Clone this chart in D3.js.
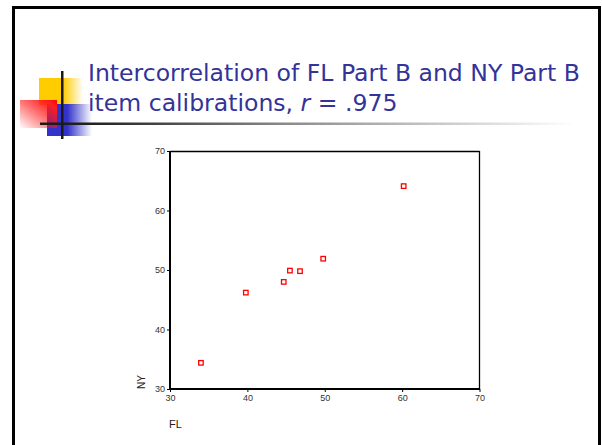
<!DOCTYPE html>
<html><head><meta charset="utf-8">
<script src="https://cdn.jsdelivr.net/npm/d3@7"></script>
<style>body{margin:0;background:#fff}svg{display:block}</style>
</head><body>
<script>
// Data
const flValues = [34.0, 39.8, 44.7, 45.5, 46.8, 49.8, 60.2];
const nyValues = [34.4, 46.2, 48.0, 49.9, 49.8, 51.9, 64.1];
const xTicks = [30, 40, 50, 60, 70];
const yTicks = [30, 40, 50, 60, 70];
const titleLine1 = "Intercorrelation of FL Part B and NY Part B";
const titleLine2a = "item calibrations, ";
const titleLine2r = "r";
const titleLine2b = " = .975";
const xLabel = "FL", yLabel = "NY";

const W = 602, H = 445;
const svg = d3.select("body").append("svg").attr("width", W).attr("height", H);
const defs = svg.append("defs");

function grad(id, x1, y1, x2, y2, stops) {
  const g = defs.append("linearGradient").attr("id", id)
    .attr("x1", x1).attr("y1", y1).attr("x2", x2).attr("y2", y2);
  stops.forEach(s => g.append("stop").attr("offset", s[0]).attr("stop-color", s[1]).attr("stop-opacity", s[2] == null ? 1 : s[2]));
}
grad("gy", "0", "0", "1", "0", [["0", "#ffcc00"], ["0.55", "#ffcc00"], ["1", "#ffcc00", 0]]);
grad("gb", "0", "0", "1", "0", [["0", "#3333cc"], ["0.45", "#3333cc"], ["1", "#3333cc", 0]]);
grad("gr", "1", "0", "0", "1", [["0", "#ff0000"], ["0.15", "#ff2020"], ["1", "#ff0000", 0]]);
grad("gl", "0", "0", "1", "0", [["0", "#1a1a1a"], ["0.1", "#222"], ["0.45", "#888"], ["1", "#ffffff"]]);

// Slide border
svg.append("rect").attr("x", 13.5).attr("y", 7.5).attr("width", 586).attr("height", 460)
  .attr("fill", "none").attr("stroke", "#000").attr("stroke-width", 3);

// Decoration
svg.append("rect").attr("x", 39).attr("y", 78).attr("width", 44).attr("height", 27).attr("fill", "url(#gy)");
svg.append("rect").attr("x", 47).attr("y", 104).attr("width", 45).attr("height", 32).attr("fill", "url(#gb)");
svg.append("rect").attr("x", 20).attr("y", 100).attr("width", 37).attr("height", 28).attr("fill", "url(#gr)");
svg.append("rect").attr("x", 40).attr("y", 122.5).attr("width", 535).attr("height", 2.5).attr("fill", "url(#gl)");
svg.append("rect").attr("x", 61).attr("y", 71).attr("width", 2.5).attr("height", 68).attr("fill", "#1a1a1a");

// Title (font size fitted so that line 1 spans the reference width)
const tf = "'DejaVu Sans', sans-serif";
const t1 = svg.append("text").attr("x", 88).attr("y", 81).attr("font-family", tf).attr("font-size", 25)
  .attr("fill", "#333399").text(titleLine1);
const natural = t1.node().getComputedTextLength();
const fs = Math.min(26, 25 * 492 / natural);
t1.attr("font-size", fs);
const t2 = svg.append("text").attr("x", 88).attr("y", 111).attr("font-family", tf).attr("font-size", fs)
  .attr("fill", "#333399");
t2.append("tspan").text(titleLine2a);
t2.append("tspan").attr("font-style", "italic").text(titleLine2r);
t2.append("tspan").text(titleLine2b);

// Plot
const L = 170, R = 479.5, T = 151, B = 389;
const x = d3.scaleLinear().domain([30, 70]).range([L, R]);
const y = d3.scaleLinear().domain([30, 70]).range([B, T]);
const af = "Arial, 'Liberation Sans', sans-serif";

svg.append("line").attr("x1", L).attr("x2", R).attr("y1", T + 0.5).attr("y2", T + 0.5).attr("stroke", "#000").attr("stroke-width", 1.3);
svg.append("line").attr("x1", R).attr("x2", R).attr("y1", T).attr("y2", B).attr("stroke", "#000").attr("stroke-width", 1.3);

const xa = svg.append("g").attr("transform", `translate(0,${B})`)
  .call(d3.axisBottom(x).tickValues(xTicks).tickSize(3).tickPadding(3).tickFormat(d3.format("d")));
const ya = svg.append("g").attr("transform", `translate(${L},0)`)
  .call(d3.axisLeft(y).tickValues(yTicks).tickSize(3).tickPadding(2).tickFormat(d3.format("d")));
[xa, ya].forEach(a => {
  a.select(".domain").attr("stroke", "#000").attr("stroke-width", 2);
  a.selectAll(".tick line").attr("stroke", "#000");
  a.selectAll("text").attr("font-family", af).attr("font-size", 9).attr("fill", "#333");
});
xa.select(".domain").attr("d", `M${L - 1},0H${R + 0.5}`);
ya.select(".domain").attr("d", `M0,${B + 1}V${T}`);

// points
svg.append("g").selectAll("rect").data(flValues.map((v, i) => [v, nyValues[i]])).join("rect")
  .attr("x", d => x(d[0]) - 2.25).attr("y", d => y(d[1]) - 2.25)
  .attr("width", 4.5).attr("height", 4.5).attr("fill", "#fff").attr("stroke", "#ff0000").attr("stroke-width", 1.3);

// axis titles
svg.append("text").attr("transform", `translate(145,${B}) rotate(-90)`).attr("font-family", af)
  .attr("font-size", 10).attr("fill", "#222").text(yLabel);
svg.append("text").attr("x", 169).attr("y", 428).attr("font-family", af).attr("font-size", 11)
  .attr("fill", "#222").text(xLabel);
</script>
</body></html>
